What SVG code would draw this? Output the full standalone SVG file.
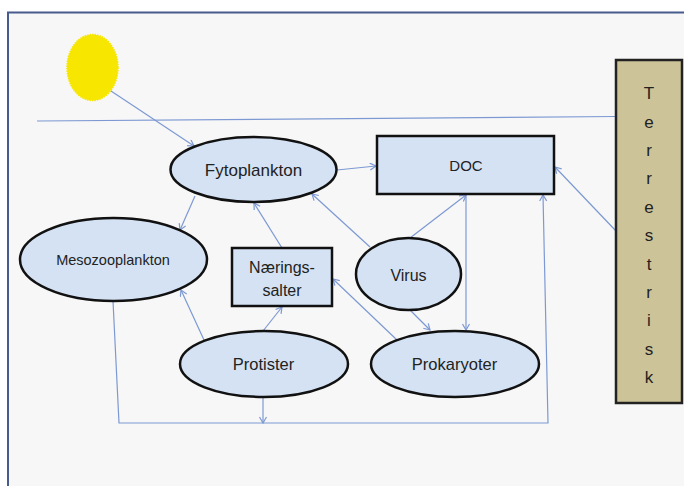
<svg xmlns="http://www.w3.org/2000/svg" width="684" height="486" viewBox="0 0 684 486">
<defs>
<style>
.n{fill:#d4e2f4;stroke:#111;stroke-width:2.5}
.t{font-family:"Liberation Sans",Arial,sans-serif;fill:#222;text-anchor:middle}
.c{fill:none;stroke:#7d99d3;stroke-width:1.2}
.a{marker-end:url(#ah)}
</style>
<marker id="ah" markerWidth="10" markerHeight="10" refX="7" refY="4" orient="auto" markerUnits="userSpaceOnUse">
<path d="M1,0.5 L7,4 L1,7.5" fill="none" stroke="#7d99d3" stroke-width="1.2"/>
</marker>
</defs>
<rect x="0" y="0" width="684" height="486" fill="#ffffff"/>
<rect x="8" y="12.5" width="700" height="500" fill="#f7f7f7" stroke="#475b8d" stroke-width="2"/>
<g id="sun"><ellipse cx="92.5" cy="67.5" rx="25.5" ry="33" fill="#f6e600" stroke="#f6e600" stroke-width="1.5" stroke-dasharray="1.5 1"/></g>
<g id="connectors">
<line class="c" x1="37" y1="121" x2="616" y2="116.5"/>
<line class="c a" x1="111" y1="91" x2="194" y2="146"/>
<line class="c a" x1="337" y1="170" x2="376" y2="166"/>
<line class="c a" x1="195" y1="196" x2="180" y2="230"/>
<line class="c a" x1="282" y1="248" x2="254" y2="203"/>
<line class="c a" x1="370" y1="247" x2="312" y2="194"/>
<line class="c a" x1="410" y1="238" x2="466" y2="195"/>
<line class="c a" x1="466" y1="195" x2="466" y2="330"/>
<line class="c a" x1="410" y1="310" x2="430" y2="330"/>
<line class="c a" x1="397" y1="340" x2="333" y2="279"/>
<line class="c a" x1="263" y1="331" x2="282" y2="307"/>
<line class="c a" x1="204" y1="340" x2="181" y2="290"/>
<line class="c a" x1="263" y1="397" x2="263" y2="423"/>
<polyline class="c a" points="113,301 119,423 548,423 543,195"/>
<line class="c a" x1="616" y1="231" x2="555" y2="167"/>
</g>
<g id="fytoplankton"><ellipse class="n" cx="253.5" cy="169.5" rx="83" ry="32.5"/><text class="t" x="253.5" y="176" font-size="17">Fytoplankton</text></g>
<g id="mesozooplankton"><ellipse class="n" cx="113.5" cy="259.5" rx="93.5" ry="41.5"/><text class="t" x="113" y="265" font-size="14.5">Mesozooplankton</text></g>
<g id="naeringssalter"><rect class="n" x="232" y="248" width="100" height="58"/><text class="t" x="282" y="272.5" font-size="16">Nærings-</text><text class="t" x="282" y="295.5" font-size="16">salter</text></g>
<g id="doc"><rect class="n" x="377" y="136" width="177" height="58"/><text class="t" x="466" y="171" font-size="15">DOC</text></g>
<g id="virus"><ellipse class="n" cx="408.5" cy="274" rx="52.5" ry="36"/><text class="t" x="408.5" y="280.5" font-size="16">Virus</text></g>
<g id="protister"><ellipse class="n" cx="264" cy="364" rx="84" ry="33"/><text class="t" x="263.5" y="370" font-size="16.5">Protister</text></g>
<g id="prokaryoter"><ellipse class="n" cx="455" cy="364" rx="84" ry="33"/><text class="t" x="454.5" y="369.5" font-size="16.5">Prokaryoter</text></g>
<g id="terrestrisk"><rect x="616" y="60" width="66" height="343" fill="#cdc398" stroke="#222" stroke-width="2.5"/>
<text class="t" x="649" font-size="17"><tspan x="649" y="99">T</tspan><tspan x="649" y="127.5">e</tspan><tspan x="649" y="156">r</tspan><tspan x="649" y="184">r</tspan><tspan x="649" y="213">e</tspan><tspan x="649" y="241">s</tspan><tspan x="649" y="269.5">t</tspan><tspan x="649" y="298">r</tspan><tspan x="649" y="326">i</tspan><tspan x="649" y="354.5">s</tspan><tspan x="649" y="383">k</tspan></text></g>
</svg>
